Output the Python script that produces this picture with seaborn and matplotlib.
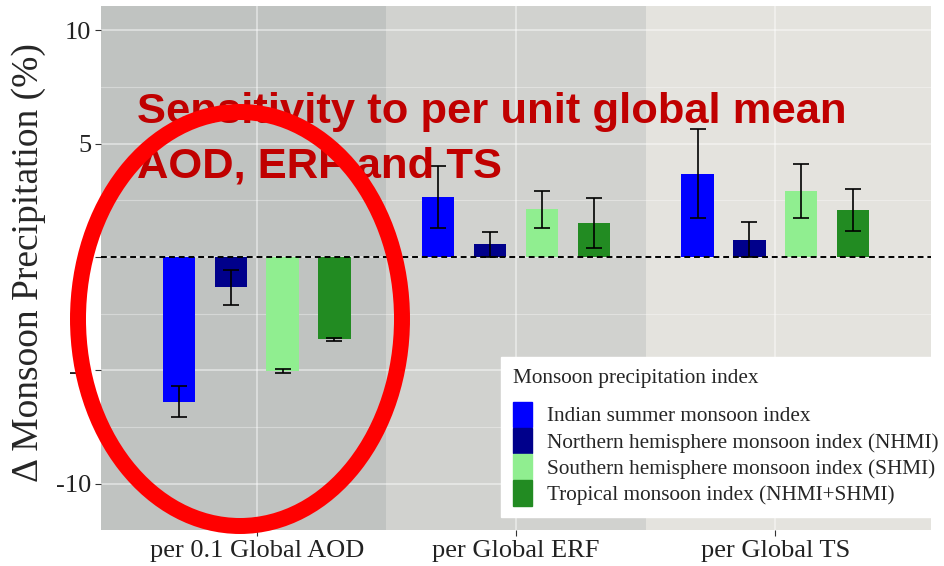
import numpy as np
import pandas as pd
import matplotlib
matplotlib.use("Agg")
import matplotlib.pyplot as plt
from matplotlib.patches import Ellipse, Patch
import seaborn as sns

# --- data ---
GROUPS = ["per 0.1 Global AOD", "per Global ERF", "per Global TS"]
INDICES = [
    "Indian summer monsoon index",
    "Northern hemisphere monsoon index (NHMI)",
    "Southern hemisphere monsoon index (SHMI)",
    "Tropical monsoon index (NHMI+SHMI)",
]
COLORS = ["#0000ff", "#00008b", "#90ee90", "#228b22"]

# rows = index, cols = group
MEAN = [
    [-6.37, 2.66, 3.67],
    [-1.33, 0.56, 0.76],
    [-5.02, 2.11, 2.91],
    [-3.63, 1.50, 2.07],
]
ERR = [
    [0.69, 1.37, 1.95],
    [0.77, 0.55, 0.77],
    [0.10, 0.82, 1.18],
    [0.07, 1.11, 0.91],
]
PANEL_SHADES = ["#c0c3c1", "#d1d2cf", "#e4e3de"]

rows = []
for i, idx in enumerate(INDICES):
    for j, grp in enumerate(GROUPS):
        rows.append({"Group": grp, "Index": idx, "Value": MEAN[i][j], "Err": ERR[i][j]})
df = pd.DataFrame(rows)

sns.set_style("white")
plt.rcParams["font.family"] = ["Liberation Serif", "DejaVu Serif"]

fig = plt.figure(figsize=(9.44, 5.66), dpi=100)
ax = fig.add_axes([101 / 944, 1 - 530 / 566, 830 / 944, 524 / 566])

for k, shade in enumerate(PANEL_SHADES):
    ax.axvspan(k - 0.5 if k > 0 else -0.6, k + 0.5 if k < 2 else 2.6, color=shade, zorder=0, lw=0)

n_before = len(ax.patches)
sns.barplot(data=df, x="Group", y="Value", hue="Index", hue_order=INDICES, order=GROUPS,
            palette=COLORS, errorbar=None, gap=0.38, width=0.8, saturation=1,
            linewidth=0, legend=False, ax=ax, zorder=3)

# error bars: sort the bar patches left to right -> group-major, hue-minor
bars = sorted(ax.patches[n_before:], key=lambda p: p.get_x())
for k, p in enumerate(bars):
    j, i = divmod(k, len(INDICES))
    xc = p.get_x() + p.get_width() / 2
    ax.errorbar(xc, MEAN[i][j], yerr=ERR[i][j], color="black", lw=1.2,
                capsize=5.5, capthick=1.2, zorder=5)

ax.axhline(0, color="black", ls=(0, (3, 2)), lw=1.4, zorder=4)

ax.set_xlim(-0.6, 2.6)
ax.set_ylim(-12.03, 11.06)
ax.set_yticks([-10, -5, 0, 5, 10])
ax.set_yticks([-7.5, -2.5, 2.5, 7.5], minor=True)
ax.set_yticklabels(["-10", "-5", "0", "5", "10"])
ax.grid(True, which="major", color="white", alpha=0.55, lw=1.1, zorder=1)
ax.grid(True, which="minor", axis="y", color="white", alpha=0.35, lw=0.8, zorder=1)
ax.set_axisbelow(True)
for s in ax.spines.values():
    s.set_visible(False)
ax.tick_params(axis="both", which="major", length=4, color="#333333", labelsize=19,
               labelcolor="#222222", pad=3, left=True, bottom=True)
ax.tick_params(axis="both", which="minor", length=0)
ax.set_xlabel("")
ax.set_ylabel("Δ Monsoon Precipitation (%)", fontsize=27)
ax.yaxis.set_label_coords(-0.066, 0.51)

handles = [Patch(facecolor=c, edgecolor=c) for c in COLORS]
leg = fig.legend(handles, INDICES, title="Monsoon precipitation index",
                 loc="upper left", bbox_to_anchor=(501 / 944, 1 - 357 / 566),
                 fontsize=15.3, title_fontsize=15.3, frameon=True, fancybox=False,
                 framealpha=1, edgecolor="white", handlelength=0.9, handleheight=1.45,
                 labelspacing=0.05, handletextpad=0.7, borderpad=0.55, borderaxespad=0)
leg._legend_box.align = "left"
leg._legend_box.sep = 10

# red annotation over the plot
for txt, base in [("Sensitivity to per unit global mean", 123), ("AOD, ERF and TS", 177)]:
    fig.text(137 / 944, 1 - base / 566, txt, color="#c00000", fontsize=31.3,
             fontweight="bold", family="Liberation Sans", va="baseline", zorder=10)

ell = Ellipse((240 / 944, 1 - 319 / 566), 324 / 944, 414 / 566, transform=fig.transFigure,
              fill=False, edgecolor="#ff0000", lw=11.5, zorder=11)
fig.add_artist(ell)

fig.savefig("out.png", dpi=100)
